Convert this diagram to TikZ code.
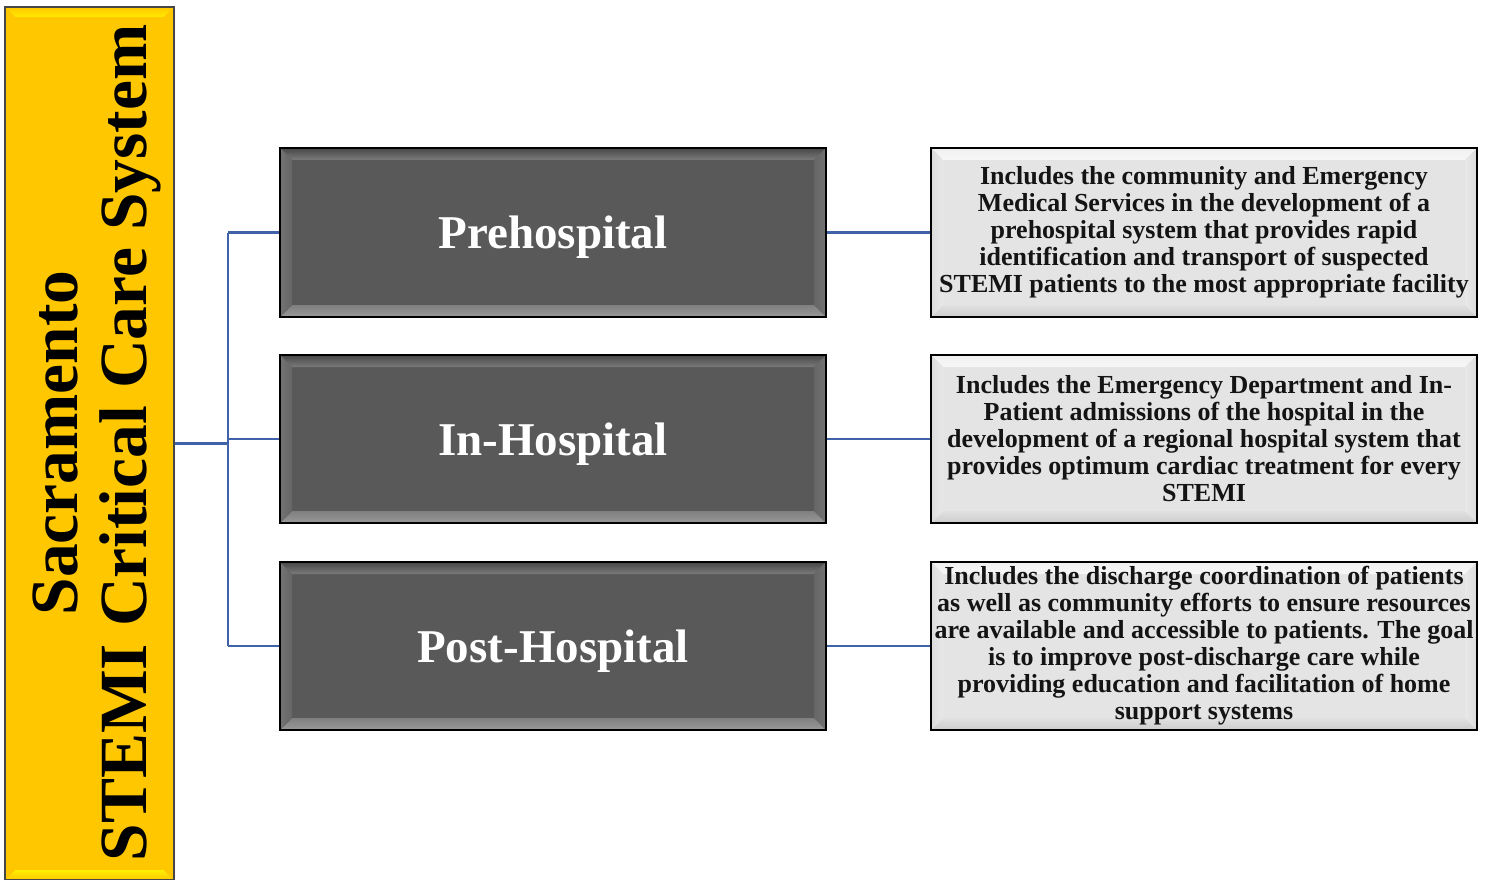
\documentclass[tikz,border=0pt]{standalone}
\usepackage{fontspec}
\setmainfont{Liberation Serif}
\definecolor{connblue}{RGB}{64,98,168}
\definecolor{goldfill}{RGB}{255,199,0}
\definecolor{darkfill}{RGB}{89,89,89}
\definecolor{lightfill}{RGB}{228,228,228}

\begin{document}

% Bevelled faces drawn inside a node's path picture.
% #1 bevel width, #2/#3 top face (outer/inner), #4/#5/#6 left face (outer/middle/inner),
% #7/#8 bottom face (inner/outer), #9 middle stripe of the right face
\newcommand\bevelfaces[9]{%
  \def\bvw{#1}%
  \path (path picture bounding box.north west) coordinate (bNW)
        (path picture bounding box.north east) coordinate (bNE)
        (path picture bounding box.south west) coordinate (bSW)
        (path picture bounding box.south east) coordinate (bSE);
  \shade[top color=#2, bottom color=#3]
    (bNW) -- (bNE) -- ([xshift=-\bvw,yshift=-\bvw]bNE) -- ([xshift=\bvw,yshift=-\bvw]bNW) -- cycle;
  \shade[top color=#7, bottom color=#8]
    (bSW) -- (bSE) -- ([xshift=-\bvw,yshift=\bvw]bSE) -- ([xshift=\bvw,yshift=\bvw]bSW) -- cycle;
  \shade[left color=#4, middle color=#5, right color=#6]
    (bNW) -- ([xshift=\bvw,yshift=-\bvw]bNW) -- ([xshift=\bvw,yshift=\bvw]bSW) -- (bSW) -- cycle;
  \shade[left color=#6, middle color=#9, right color=#4]
    (bNE) -- ([xshift=-\bvw,yshift=-\bvw]bNE) -- ([xshift=-\bvw,yshift=\bvw]bSE) -- (bSE) -- cycle;
}

\begin{tikzpicture}[x=1pt,y=-1pt,
  barbox/.style={rectangle, draw=black!72, line width=2pt, fill=goldfill,
    minimum width=169pt, minimum height=873pt, inner sep=0pt,
    path picture={\bevelfaces{10pt}{goldfill}{yellow!65!goldfill}{goldfill}{goldfill!85!yellow}{goldfill}{yellow!70!goldfill}{goldfill}{yellow!30!goldfill}}},
  bartext/.style={rotate=90, anchor=base, inner sep=0pt,
    font=\fontsize{67.5}{70}\selectfont\bfseries, text=black},
  darkbox/.style={rectangle, draw=black, line width=2pt, fill=darkfill,
    minimum width=546pt, minimum height=168pt, inner sep=0pt, text depth=0pt,
    font=\fontsize{47}{50}\selectfont\bfseries, text=white,
    path picture={\bevelfaces{12pt}{black!72}{black!52}{black!55}{black!15}{black!60}{black!50}{black!40}{black!10}}},
  descbox/.style={rectangle, draw=black, line width=2pt, fill=lightfill,
    minimum width=546pt, minimum height=168pt, inner sep=0pt, align=center,
    font=\fontsize{26}{27}\selectfont\bfseries, text=black!92,
    path picture={\bevelfaces{12pt}{black!6}{black!3}{black!14}{white}{black!9}{black!12}{black!20}{white}}},
  conn/.style={draw=connblue, line width=2.3pt}
]
\useasboundingbox (0,0) rectangle (1494,880);

% title bar on the left
\node[barbox] (bar) at (89.5,443.5) {};
\node[bartext] (titleA) at (77,443) {Sacramento};
\node[bartext] (titleB) at (146,443) {STEMI Critical Care System};

% phases
\node[darkbox, minimum height=169pt] (pre) at (553,232.5) {Prehospital};
\node[darkbox] (inh) at (553,439) {In-Hospital};
\node[darkbox] (post) at (553,646) {Post-Hospital};

% descriptions
\node[descbox, minimum height=169pt] (dpre) at (1204,232.5)
  {Includes the community and Emergency\\
   Medical Services in the development of a\\
   prehospital system that provides rapid\\
   identification and transport of suspected\\
   STEMI patients to the most appropriate facility};
\node[descbox] (dinh) at (1204,439)
  {Includes the Emergency Department and In-\\
   Patient admissions of the hospital in the\\
   development of a regional hospital system that\\
   provides optimum cardiac treatment for every\\
   STEMI};
\node[descbox] (dpost) at (1204,646)
  {Includes the discharge coordination of patients\\
   as well as community efforts to ensure resources\\
   are available and accessible to patients. The goal\\
   is to improve post-discharge care while\\
   providing education and facilitation of home\\
   support systems};

% tree connectors
\coordinate (trunk) at (228,443.5);
\draw[conn] (bar.east |- trunk) -- (trunk);
\draw[conn] (trunk |- pre.west) -- (trunk |- post.west);
\draw[conn] (trunk |- pre.west) -- (pre.west);
\draw[conn] (trunk |- inh.west) -- (inh.west);
\draw[conn] (trunk |- post.west) -- (post.west);
\draw[conn] (pre.east) -- (dpre.west);
\draw[conn] (inh.east) -- (dinh.west);
\draw[conn] (post.east) -- (dpost.west);
\end{tikzpicture}
\end{document}
